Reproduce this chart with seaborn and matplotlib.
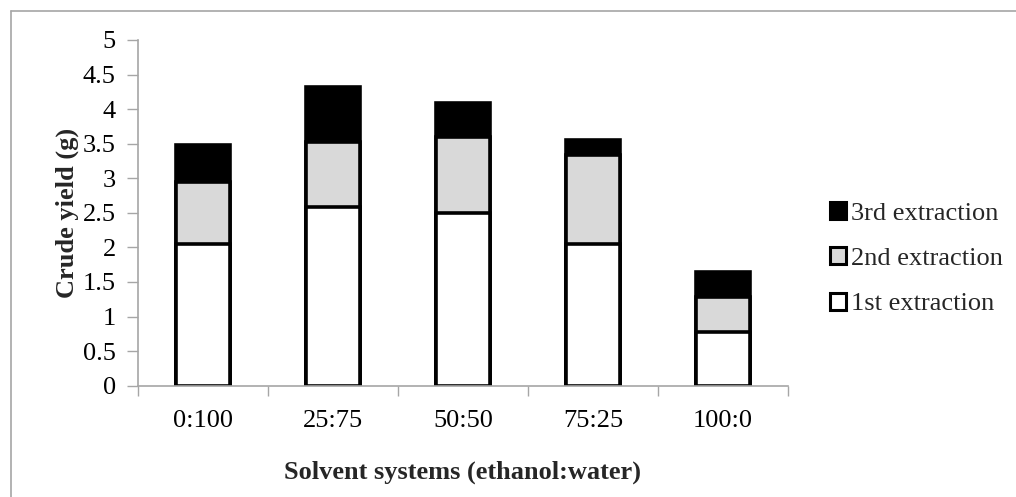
import matplotlib
matplotlib.use("Agg")
import matplotlib.pyplot as plt
import matplotlib.patches as mpatches
import matplotlib.lines as mlines
import seaborn as sns
import pandas as pd
import numpy as np

categories = ["0:100", "25:75", "50:50", "75:25", "100:0"]
first_ext = [2.05, 2.59, 2.50, 2.05, 0.77]
second_ext = [0.90, 0.93, 1.09, 1.28, 0.52]
third_ext = [0.53, 0.80, 0.50, 0.23, 0.35]
series_names = ["1st extraction", "2nd extraction", "3rd extraction"]
series_colors = ["#ffffff", "#d9d9d9", "#000000"]
y_ticks = [0, 0.5, 1, 1.5, 2, 2.5, 3, 3.5, 4, 4.5, 5]

sns.set_theme(style="white")
plt.rcParams["font.family"] = ["Liberation Serif", "DejaVu Serif"]

FS = 19
W, H = 1016, 497
fig = plt.figure(figsize=(W / 100, H / 100), dpi=100)
ax = fig.add_axes([138 / W, 1 - 385.7 / H, 650 / W, 345.7 / H])

c1 = np.array(first_ext)
c2 = c1 + np.array(second_ext)
c3 = c2 + np.array(third_ext)
df = pd.DataFrame({"cat": categories, "c1": c1, "c2": c2, "c3": c3})

for col, color in [("c3", series_colors[2]), ("c2", series_colors[1]), ("c1", series_colors[0])]:
    sns.barplot(data=df, x="cat", y=col, color=color, edgecolor="black",
                linewidth=2.6, width=0.41, ax=ax, saturation=1)

ax.set_ylim(0, 5)
ax.set_xlim(-0.5, 4.5)
ax.set_yticks(y_ticks)
ax.set_yticklabels([f"{t:g}" for t in y_ticks])
ax.set_xticks(np.arange(len(categories) + 1) - 0.5, minor=True)
ax.tick_params(axis="x", which="major", length=0, pad=17.5, labelsize=FS, colors="black")
ax.tick_params(axis="x", which="minor", length=7, color="#a6a6a6", width=1, bottom=True)
ax.tick_params(axis="y", length=8, color="#a6a6a6", width=1, pad=8, labelsize=FS,
               left=True, labelcolor="black")
for s in ["top", "right"]:
    ax.spines[s].set_visible(False)
for s in ["left", "bottom"]:
    ax.spines[s].set_color("#a6a6a6")
    ax.spines[s].set_linewidth(1.2)
    ax.spines[s].set_zorder(5)

ax.set_xlabel("Solvent systems (ethanol:water)", fontsize=FS, fontweight="bold", labelpad=20.5)
ax.set_ylabel("Crude yield (g)", fontsize=FS, fontweight="bold", labelpad=3)

handles = [mpatches.Patch(facecolor=series_colors[i], edgecolor="black", linewidth=2.2,
                          label=series_names[i]) for i in [2, 1, 0]]
fig.legend(handles=handles, loc="upper left", bbox_to_anchor=(830 / W, 1 - 202 / H),
           frameon=False, fontsize=FS, handlelength=0.6, handleheight=0.6,
           handletextpad=0.2, labelspacing=0.86, borderaxespad=0, borderpad=0)

fig.add_artist(mlines.Line2D([10.5 / W, 10.5 / W], [0, 1 - 11 / H], transform=fig.transFigure,
                             color="#a6a6a6", linewidth=1.2))
fig.add_artist(mlines.Line2D([10.5 / W, 1], [1 - 11 / H, 1 - 11 / H], transform=fig.transFigure,
                             color="#a6a6a6", linewidth=1.2))

fig.savefig("out.png", dpi=100)
